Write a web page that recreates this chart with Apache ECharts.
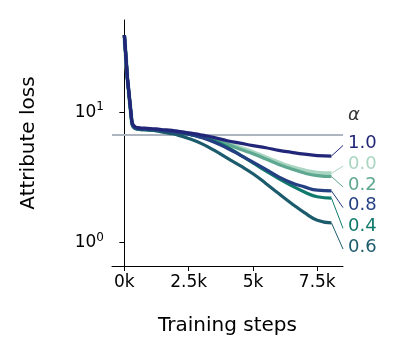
<!DOCTYPE html>
<html>
<head>
<meta charset="utf-8">
<script src="https://cdn.jsdelivr.net/npm/echarts@6/dist/echarts.min.js"></script>
<style>
  html, body { margin: 0; padding: 0; background: #fff; }
  #main { width: 400px; height: 360px; }
</style>
</head>
<body>
<div id="main"></div>
<script>
// training steps shared by every run
const steps = [0, 290, 420, 600, 800, 1000, 1250, 1500, 1750, 2000, 2500, 3000, 3500, 4000, 4500, 5000, 5500, 6000, 6500, 7000, 7500, 8050];

// attribute loss per alpha
const alphas = ['0.0', '0.2', '0.4', '0.6', '0.8', '1.0'];
const loss00 = [39, 8.4, 7.6, 7.45, 7.4, 7.35, 7.3, 7.25, 7.15, 7.05, 6.85, 6.55, 6.2, 5.8, 5.35, 4.95, 4.5, 4.12, 3.8, 3.58, 3.44, 3.4];
const loss02 = [39, 8.4, 7.55, 7.4, 7.35, 7.3, 7.25, 7.2, 7.1, 7.0, 6.8, 6.5, 6.1, 5.7, 5.2, 4.82, 4.38, 3.98, 3.68, 3.42, 3.27, 3.22];
const loss04 = [39, 8.4, 7.6, 7.45, 7.4, 7.35, 7.3, 7.2, 7.1, 7.0, 6.8, 6.45, 6.0, 5.4, 4.72, 4.1, 3.55, 3.1, 2.74, 2.45, 2.25, 2.2];
const loss06 = [39, 8.3, 7.5, 7.4, 7.35, 7.3, 7.2, 7.05, 6.9, 6.75, 6.3, 5.75, 5.1, 4.45, 3.9, 3.38, 2.85, 2.38, 2.0, 1.7, 1.49, 1.42];
const loss08 = [39, 8.5, 7.65, 7.5, 7.45, 7.4, 7.35, 7.25, 7.15, 7.05, 6.8, 6.4, 5.9, 5.3, 4.7, 4.15, 3.65, 3.2, 2.88, 2.68, 2.53, 2.5];
const loss10 = [39, 8.6, 7.75, 7.6, 7.55, 7.5, 7.45, 7.35, 7.3, 7.2, 6.95, 6.7, 6.4, 6.05, 5.8, 5.55, 5.35, 5.1, 4.93, 4.78, 4.66, 4.62];
const allLoss = [loss00, loss02, loss04, loss06, loss08, loss10];

// reference level (gray line)
const baseline = 6.78;

const xTicks = [0, 2500, 5000, 7500];
const yTicks = [1, 10];

const colors = ['#a9d5c1', '#5ea791', '#0f7a6b', '#1c5b6c', '#243f82', '#222679'];
const widths = [4.2, 3.2, 3.2, 3.2, 3.2, 3.2];

const chart = echarts.init(document.getElementById('main'));
const font = 'DejaVu Sans';

const series = alphas.map((a, i) => ({
  name: a,
  type: 'line',
  data: steps.map((s, j) => [s, allLoss[i][j]]),
  showSymbol: false,
  smooth: 0.5,
  lineStyle: { color: colors[i], width: widths[i] },
  z: 3 + i,
  silent: true
}));

series.unshift({
  type: 'line',
  data: [],
  z: 1,
  silent: true,
  markLine: {
    symbol: 'none',
    silent: true,
    label: { show: false },
    lineStyle: { color: '#adb5c1', width: 2, type: 'solid' },
    data: [{ yAxis: baseline }]
  }
});

chart.setOption({
  animation: false,
  grid: { left: 112, right: 57, top: 20, bottom: 94 },
  xAxis: {
    type: 'value',
    min: -480,
    max: 8500,
    name: 'Training steps',
    nameLocation: 'middle',
    nameGap: 50,
    nameTextStyle: { fontFamily: font, fontSize: 20, color: '#000' },
    axisLine: { show: true, lineStyle: { color: '#000', width: 1 } },
    axisTick: { show: true, length: 5, lineStyle: { color: '#000' }, customValues: xTicks },
    axisLabel: {
      fontFamily: font, fontSize: 17, color: '#000', margin: 8,
      customValues: xTicks,
      formatter: v => (v / 1000) + 'k'
    },
    splitLine: { show: false }
  },
  yAxis: {
    type: 'log',
    logBase: 10,
    min: 0.663,
    max: 51,
    name: 'Attribute loss',
    nameLocation: 'middle',
    nameGap: 73,
    nameTextStyle: { fontFamily: font, fontSize: 20, color: '#000' },
    axisLine: { show: true, lineStyle: { color: '#000', width: 1 } },
    axisTick: { show: true, length: 5, lineStyle: { color: '#000' }, customValues: yTicks },
    minorTick: { show: false },
    axisLabel: {
      fontFamily: font, fontSize: 17, color: '#000', margin: 8,
      customValues: yTicks,
      formatter: v => '{b|10}{s|' + Math.round(Math.log10(v)) + '}',
      rich: {
        b: { fontFamily: font, fontSize: 17, color: '#000' },
        s: { fontFamily: font, fontSize: 12, color: '#000', padding: [0, 0, 10, 0] }
      }
    },
    splitLine: { show: false }
  },
  series: series
});

// end labels with guide lines, stacked in order of the final value
const labelX = 348;
const lineX = 343;
const slotTop = 143.5;
const slotStep = 20.7;
const order = alphas.map((a, i) => i).sort((p, q) => {
  const a = allLoss[p][allLoss[p].length - 1];
  const b = allLoss[q][allLoss[q].length - 1];
  return b - a;
});
const elements = [];
order.forEach((i, k) => {
  const last = steps.length - 1;
  const end = chart.convertToPixel({ gridIndex: 0 }, [steps[last], allLoss[i][last]]);
  const ly = slotTop + k * slotStep;
  elements.push({
    type: 'polyline',
    silent: true,
    shape: { points: [[end[0], end[1]], [lineX, ly + 2]] },
    style: { stroke: colors[i], lineWidth: 1, fill: null }
  });
  elements.push({
    type: 'text',
    silent: true,
    x: labelX,
    y: ly,
    style: { text: alphas[i], fill: colors[i], font: '18px "DejaVu Sans"', verticalAlign: 'middle', align: 'left' }
  });
});
elements.push({
  type: 'text',
  silent: true,
  x: labelX,
  y: 115,
  style: { text: 'α', fill: '#333', font: 'italic 18px "DejaVu Sans"', verticalAlign: 'middle', align: 'left' }
});
chart.setOption({ graphic: { elements: elements } });
</script>
</body>
</html>
